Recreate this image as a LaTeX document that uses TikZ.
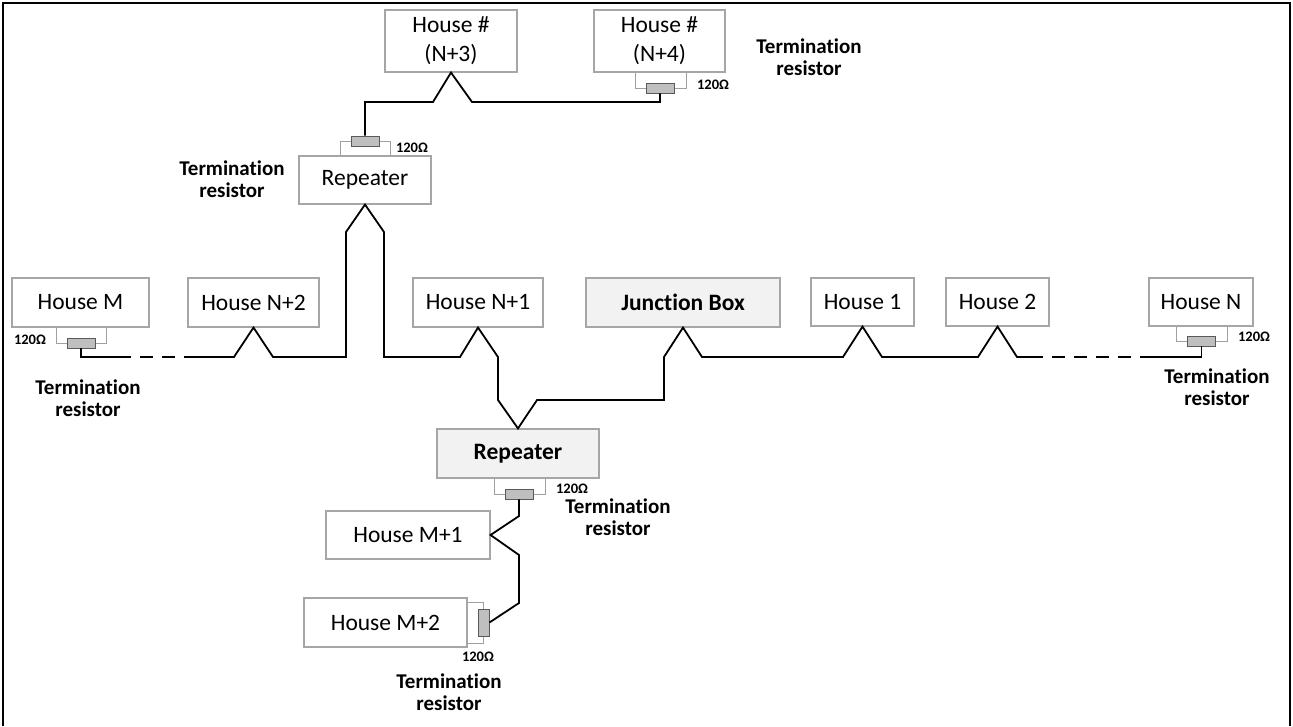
\documentclass[tikz,border=0pt]{standalone}
\usepackage{fontspec}
\setmainfont[Ligatures=NoCommon]{Carlito}
\definecolor{boxgray}{HTML}{A6A6A6}
\definecolor{shade}{HTML}{F2F2F2}
\definecolor{resfill}{HTML}{BFBFBF}
\definecolor{resborder}{HTML}{5A5A5A}
\definecolor{bracketgray}{HTML}{A0A0A0}
\begin{document}
\begin{tikzpicture}[x=1pt,y=-1pt,
  house/.style={draw=boxgray, line width=1.1pt, fill=white, minimum height=49pt, inner sep=0pt, align=center, font=\fontsize{23.5}{29}\selectfont},
  shaded/.style={house, fill=shade, font=\bfseries\fontsize{23.5}{29}\selectfont},
  wire/.style={line width=1.8pt, draw=black},
  dashwire/.style={wire, dash pattern=on 13pt off 9pt},
  res/.style={draw=resborder, fill=resfill, line width=0.9pt, minimum width=28pt, minimum height=10pt, inner sep=0pt},
  vres/.style={res, minimum width=11pt, minimum height=27pt},
  bracket/.style={draw=bracketgray, line width=1pt},
  ohm/.style={font=\bfseries\fontsize{14.5}{16}\selectfont, inner sep=0pt},
  term/.style={font=\bfseries\fontsize{21}{22}\selectfont, align=center, inner sep=0pt}]
\useasboundingbox (0,0) rectangle (1293,726);
% frame
\draw[line width=2.5pt] (3,726) -- (3,3) -- (1290,3) -- (1290,726);

% brackets (behind resistors)
\draw[bracket] (635,72) -- (635,88) -- (686,88) -- (686,72);
\draw[bracket] (340,156) -- (340,141) -- (390,141) -- (390,156);
\draw[bracket] (56,327) -- (56,343) -- (106,343) -- (106,327);
\draw[bracket] (1176,327) -- (1176,341) -- (1227,341) -- (1227,327);
\draw[bracket] (494,478) -- (494,494) -- (545,494) -- (545,478);
\draw[bracket] (467,602) -- (483.5,602) -- (483.5,643) -- (467,643);

% boxes
\node[house, minimum width=132pt, minimum height=62pt] (N3) at (451,41) {House \#\\(N+3)};
\node[house, minimum width=131pt, minimum height=62pt] (N4) at (659.5,41) {House \#\\(N+4)};
\node[house, minimum width=132pt, minimum height=48pt] (RT) at (365,180) {Repeater};
\node[house, minimum width=137pt] (HM) at (80.5,302.5) {House M};
\node[house, minimum width=131pt] (HN2) at (253.5,302.5) {House N+2};
\node[house, minimum width=130pt] (HN1) at (478,302.5) {House N+1};
\node[shaded, minimum width=194pt] (JB) at (683,302.5) {Junction Box};
\node[house, minimum width=103pt, minimum height=48pt] (H1) at (862.5,302) {House 1};
\node[house, minimum width=103pt, minimum height=48pt] (H2) at (997.5,302) {House 2};
\node[house, minimum width=104pt, minimum height=48pt] (HN) at (1201,302) {House N};
\node[shaded, minimum width=162pt] (RB) at (518,453.5) {Repeater};
\node[house, minimum width=164pt, minimum height=48pt] (HM1) at (408,535) {House M+1};
\node[house, minimum width=163pt] (HM2) at (385.5,622.5) {House M+2};

% resistors
\node[res] (rN4) at (660,88) {};
\node[res] (rRT) at (365,141) {};
\node[res] (rHM) at (81,343) {};
\node[res] (rHN) at (1201.5,341) {};
\node[res] (rRB) at (519,494) {};
\node[vres] (rM2) at (483.5,622.5) {};

% wires
\draw[wire] (rN4.south) -- (660,102) -- (472,102) -- (N3.south) -- (433,102) -- (365,102) -- (rRT.north);
\draw[wire] (rHM.south) -- (81,357) -- (118,357);
\draw[dashwire] (118,357) -- (197,357);
\draw[wire] (197,357) -- (234,357) -- (HN2.south) -- (273,357) -- (346,357) -- (346,232)
  -- (RT.south) -- (384,232) -- (384,357) -- (460,357) -- (HN1.south) -- (498,357) -- (498,400)
  -- (RB.north) -- (537,400) -- (664,400) -- (664,357) -- (JB.south) -- (702,357) -- (843,357)
  -- (H1.south) -- (882,357) -- (978,357) -- (H2.south) -- (1017,357) -- (1030,357);
\draw[dashwire] (1030,357) -- (1145,357);
\draw[wire] (1145,357) -- (1201.5,357) -- (rHN.south);
\draw[wire] (rRB.south) -- (519,516) -- (HM1.east) -- (519,555) -- (519,603) -- (rM2.east);

% ohm labels
\node[ohm] (o1) at (713,85) {120Ω};
\node[ohm] (o2) at (412,148) {120Ω};
\node[ohm] (o3) at (30,340) {120Ω};
\node[ohm] (o4) at (1254,337) {120Ω};
\node[ohm] (o5) at (572,489) {120Ω};
\node[ohm] (o6) at (478,657) {120Ω};

% termination labels
\node[term] (t1) at (809,57.5) {Termination\\resistor};
\node[term] (t2) at (232,179) {Termination\\resistor};
\node[term] (t3) at (88,398) {Termination\\resistor};
\node[term] (t4) at (1217,387) {Termination\\resistor};
\node[term] (t5) at (618,517) {Termination\\resistor};
\node[term] (t6) at (449,692) {Termination\\resistor};
\end{tikzpicture}
\end{document}
